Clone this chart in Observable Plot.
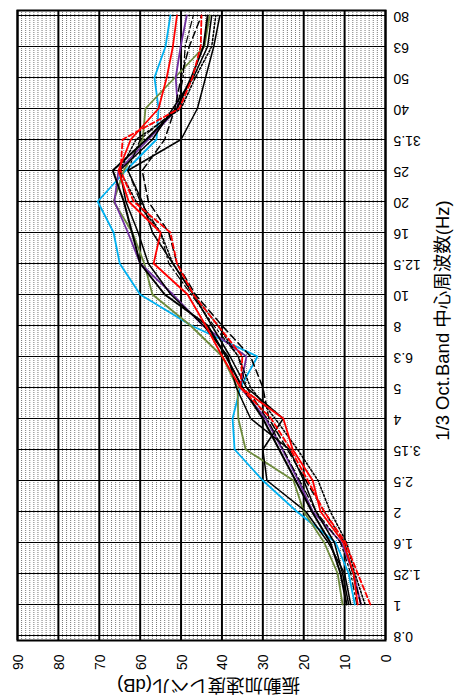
<!DOCTYPE html>
<html><head><meta charset="utf-8">
<script src="https://cdn.jsdelivr.net/npm/d3@7"></script>
<script src="https://cdn.jsdelivr.net/npm/@observablehq/plot@0.6"></script>
<style>
html,body{margin:0;padding:0;background:#fff;}
#chart{width:454px;height:697px;}
</style></head>
<body><div id="chart"></div>
<script>
// 1/3 octave band centre frequencies (Hz), bottom to top
const freqs = ["0.8","1","1.25","1.6","2","2.5","3.15","4","5","6.3","8","10","12.5","16","20","25","31.5","40","50","63","80"];
// series are measured from 1 Hz to 80 Hz
const seriesFreqs = freqs.slice(1);
const dbTicks = [90,80,70,60,50,40,30,20,10,0];

const cyan    = [7.5, 9, 12.2, 21.7, 30, 36.9, 37.4, 35.5, 31.3, 47.5, 60, 65, 66.5, 70.4, 63.5, 56, 55.5, 56.5, 53.8, 52.6];
const green   = [10.5, 11.7, 15, 20, 22.5, 34.2, 36, 36.2, 39.9, 47.7, 57, 59, 61.9, 66.5, 64, 59.4, 58.7, 51.5, 44.3, 43];
const purple  = [6, 7.8, 10.8, 17.8, 21.3, 25.2, 29.3, 35.5, 34, 44.7, 52, 60, 63, 66.3, 65.3, 58, 50.8, 51.3, 50.1, 48.6];
const redSolid= [6.8, 7.8, 10.3, 15.9, 17.8, 22.7, 25, 35.5, 39.9, 44, 48.4, 56.7, 55, 62.8, 65.3, 62.3, 55.5, 53.5, 52, 51];
const redDash = [3.7, 6.8, 9.8, 15, 19, 23.2, 28, 35.5, 35, 41, 47, 51, 52.6, 61.6, 64.8, 64.3, 50.4, 47.2, 45.2, 45];
const black1  = [9.5, 11, 13.5, 18, 22, 26, 30, 35, 39, 43.5, 54, 60, 62, 64, 66.7, 58.5, 51, 47.5, 44.5, 43.5];
const black2  = [8.5, 10, 14, 19.5, 29, 30, 25, 34, 38, 42.5, 47, 52, 57, 59.5, 63, 50, 46, 44, 42, 40.5];
const black3  = [9, 10.5, 12.5, 17, 20, 23.5, 33, 36.5, 38.5, 44.5, 52.5, 58, 60.5, 63.5, 65, 57, 52, 47, 43.5, 42.5];
const blackLongDash = [6, 8, 10, 15, 19.5, 24, 28.5, 30, 33, 40, 46.5, 51, 53, 58, 59.5, 54, 51.5, 50, 48, 45];
const blackDashDot  = [7, 8.5, 11, 17, 21, 25, 29, 34, 36, 42, 47.5, 53, 55, 60, 63, 60, 51, 49.5, 49, 47];
const blackDot      = [5, 7.5, 9.5, 13.5, 16.5, 21.5, 27, 33, 36, 41, 47, 52, 55, 61, 65, 61, 50, 46.5, 42.5, 41.5];

const series = [
  {name:"cyan", values:cyan, stroke:"#00B0F0", width:1.8, dash:null},
  {name:"green", values:green, stroke:"#6E8B3D", width:1.8, dash:null},
  {name:"purple", values:purple, stroke:"#7030A0", width:1.8, dash:null},
  {name:"black1", values:black1, stroke:"#000", width:2, dash:null},
  {name:"black2", values:black2, stroke:"#000", width:1.5, dash:null},
  {name:"black3", values:black3, stroke:"#000", width:1.5, dash:null},
  {name:"blackLongDash", values:blackLongDash, stroke:"#000", width:1.5, dash:"7,4"},
  {name:"blackDashDot", values:blackDashDot, stroke:"#000", width:1.2, dash:"7,3,2,3"},
  {name:"blackDot", values:blackDot, stroke:"#000", width:1.5, dash:"2,2"},
  {name:"redDash", values:redDash, stroke:"#FF0000", width:1.8, dash:"5,3"},
  {name:"red", values:redSolid, stroke:"#FF0000", width:1.8, dash:null}
];

const minorTicks = d3.range(0, 91).filter(v => v % 10 !== 0);
const font = "'Liberation Sans','Noto Sans CJK JP',Arial,sans-serif";

const lineMarks = series.map(s => Plot.line(
  s.values.map((v,i) => ({f: seriesFreqs[i], v})),
  {x: "v", y: "f", stroke: s.stroke, strokeWidth: s.width, strokeDasharray: s.dash, strokeLinejoin: "miter", curve: "linear"}
));

const chart = Plot.plot({
  width: 454, height: 697,
  marginLeft: 17, marginRight: 69, marginTop: 10, marginBottom: 57,
  style: {fontFamily: font, background: "#fff"},
  x: {domain: [0, 90], reverse: true, axis: null},
  y: {type: "point", domain: freqs.slice().reverse(), padding: 0, axis: null},
  marks: [
    Plot.ruleX(minorTicks, {stroke: "#777", strokeWidth: 1, strokeDasharray: "1,1"}),
    Plot.ruleY(freqs, {stroke: "#000", strokeWidth: 1}),
    Plot.ruleX(dbTicks, {stroke: "#000", strokeWidth: 2}),
    ...lineMarks,
    Plot.frame({stroke: "#000", strokeWidth: 2}),
    Plot.text(freqs, {y: d => d, text: d => d, frameAnchor: "right", dx: 8, dy: 1, rotate: 180, textAnchor: "end", lineAnchor: "middle", fontSize: 14, fill: "#000"}),
    Plot.text(dbTicks, {x: d => d, text: d => String(d), frameAnchor: "bottom", dx: 1, dy: 14, rotate: -90, textAnchor: "end", lineAnchor: "middle", fontSize: 14, fill: "#000"}),
    Plot.text(["振動加速度レベル(dB)"], {text: d => d, frameAnchor: "bottom", dx: 7, dy: 44, rotate: 180, textAnchor: "middle", lineAnchor: "middle", fontSize: 18.5, fill: "#000"}),
    Plot.text(["1/3 Oct.Band 中心周波数(Hz)"], {text: d => d, frameAnchor: "right", dx: 58, dy: -5, rotate: -90, textAnchor: "middle", lineAnchor: "middle", fontSize: 18.5, fill: "#000"})
  ]
});
document.getElementById("chart").appendChild(chart);
</script>
</body></html>
